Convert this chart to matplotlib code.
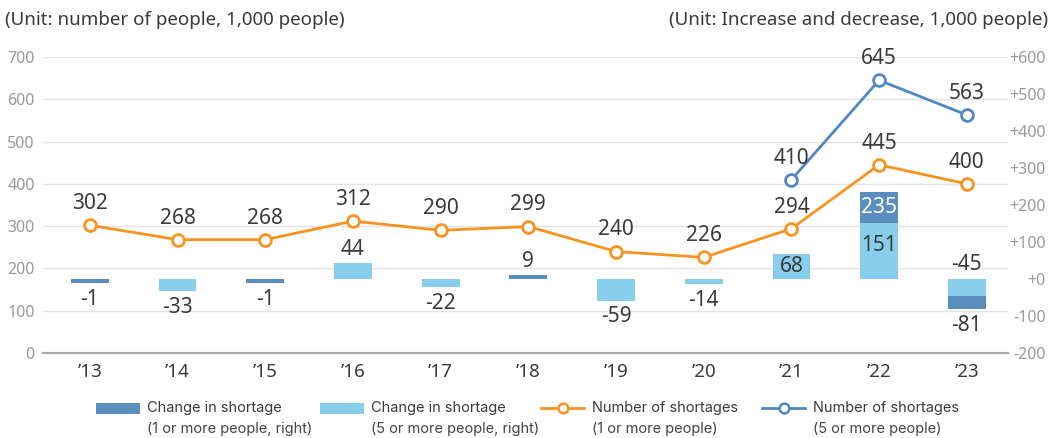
import numpy as np
import matplotlib.pyplot as plt
from matplotlib.patches import Rectangle
from matplotlib.lines import Line2D

plt.rcParams['font.family'] = ['Noto Sans', 'DejaVu Sans']

# data
years = ["\u201913", "\u201914", "\u201915", "\u201916", "\u201917", "\u201918",
         "\u201919", "\u201920", "\u201921", "\u201922", "\u201923"]
shortage_1plus = [302, 268, 268, 312, 290, 299, 240, 226, 294, 445, 400]
shortage_5plus = [np.nan, np.nan, np.nan, np.nan, np.nan, np.nan, np.nan, np.nan, 410, 645, 563]
change_1plus = [-1, np.nan, -1, np.nan, np.nan, 9, np.nan, np.nan, np.nan, 235, -81]
change_5plus = [np.nan, -33, np.nan, 44, -22, np.nan, -59, -14, 68, 151, -45]

left_ticks = [0, 100, 200, 300, 400, 500, 600, 700]
right_ticks = [-200, -100, 0, 100, 200, 300, 400, 500, 600]

DARK = '#5A8EBF'
LIGHT = '#87CEEC'
ORANGE = '#F7931E'
BLUE = '#5088C4'
TXT = '#3a3a3a'
GRAY = '#999999'

fig = plt.figure(figsize=(10.57, 4.38), dpi=100)
ax = fig.add_axes([43 / 1057, 85 / 438, 965 / 1057, 296 / 438])
x = np.arange(len(years))

# left axis: grid + ticks
ax.set_xlim(-0.535, 10.47)
ax.set_ylim(0, 700)
ax.set_yticks(left_ticks)
ax.set_yticklabels([str(t) for t in left_ticks])
ax.grid(axis='y', color='#e3e3e3', lw=1)
ax.set_axisbelow(True)
for s in ['top', 'right', 'left']:
    ax.spines[s].set_visible(False)
ax.spines['bottom'].set_color('#aaaaaa')
ax.spines['bottom'].set_linewidth(1.6)
ax.tick_params(axis='y', length=0, colors=GRAY, labelsize=11.5, pad=6)
ax.tick_params(axis='x', length=0, colors=TXT, labelsize=13.5, pad=7)
ax.set_xticks(x)
ax.set_xticklabels(years)

# right axis: change bars
ax2 = ax.twinx()
ax2.set_ylim(-200, 600)
ax2.set_yticks(right_ticks)
ax2.set_yticklabels([('+' if t >= 0 else '') + str(t) for t in right_ticks])
for s in ax2.spines.values():
    s.set_visible(False)
ax2.tick_params(axis='y', length=0, colors=GRAY, labelsize=11.5, pad=27)
for lbl in ax2.get_yticklabels():
    lbl.set_ha('right')

bw = 0.43
min_h = 12  # keep tiny changes visible
d = np.array(change_1plus, dtype=float)
l = np.array(change_5plus, dtype=float)
d_draw = np.sign(d) * np.maximum(np.abs(d), min_h)
l_draw = np.sign(l) * np.maximum(np.abs(l), min_h)
ax2.bar(x, d_draw, width=bw, color=DARK, zorder=2)
ax2.bar(x, l_draw, width=bw, color=LIGHT, zorder=3)

# bar labels
inside = {8}
for i in x:
    dv, lv = d[i], l[i]
    both = not np.isnan(dv) and not np.isnan(lv)
    if both and dv > 0:
        ax2.text(i, (lv + dv) / 2, f'{dv:.0f}', ha='center', va='center', color='white', fontsize=15, zorder=5)
        ax2.text(i, lv * 0.6, f'{lv:.0f}', ha='center', va='center', color=TXT, fontsize=15, zorder=5)
        continue
    if both:
        ax2.annotate(f'{lv:.0f}', (i, 0), xytext=(0, 3), textcoords='offset points',
                     ha='center', va='bottom', color=TXT, fontsize=15)
        ax2.annotate(f'{dv:.0f}', (i, d_draw[i]), xytext=(0, -4), textcoords='offset points',
                     ha='center', va='top', color=TXT, fontsize=15)
        continue
    v = dv if not np.isnan(dv) else lv
    vd = d_draw[i] if not np.isnan(dv) else l_draw[i]
    if i in inside:
        ax2.text(i, vd / 2, f'{v:.0f}', ha='center', va='center', color=TXT, fontsize=15, zorder=5)
    elif v > 0:
        ax2.annotate(f'{v:.0f}', (i, vd), xytext=(0, 2), textcoords='offset points',
                     ha='center', va='bottom', color=TXT, fontsize=15)
    else:
        ax2.annotate(f'{v:.0f}', (i, vd), xytext=(0, -4), textcoords='offset points',
                     ha='center', va='top', color=TXT, fontsize=15)

# lines on top, left scale
ax3 = ax.twinx()
ax3.set_ylim(0, 700)
ax3.axis('off')
ax3.set_xlim(ax.get_xlim())
mk = dict(marker='o', markersize=8.5, markerfacecolor='white', markeredgewidth=2, lw=2)
ax3.plot(x, shortage_1plus, color=ORANGE, **mk)
ax3.plot(x, shortage_5plus, color=BLUE, **mk)
for series in (shortage_1plus, shortage_5plus):
    for i, v in enumerate(series):
        if not np.isnan(v):
            ax3.annotate(f'{v:.0f}', (i, v), xytext=(0, 8), textcoords='offset points',
                         ha='center', va='bottom', color=TXT, fontsize=15)

# unit captions
fig.text(5 / 1057, 1 - 20 / 438, '(Unit: number of people, 1,000 people)', ha='left', va='center',
         fontsize=13.5, color=TXT)
fig.text(1048 / 1057, 1 - 20 / 438, '(Unit: Increase and decrease, 1,000 people)', ha='right', va='center',
         fontsize=13.5, color=TXT)

# legend, drawn by hand
def fx(px):
    return px / 1057

def fy(py):
    return 1 - py / 438

legend_items = [
    ('bar', DARK, 96, 'Change in shortage', '(1 or more people, right)'),
    ('bar', LIGHT, 320, 'Change in shortage', '(5 or more people, right)'),
    ('line', ORANGE, 541, 'Number of shortages', '(1 or more people)'),
    ('line', BLUE, 762, 'Number of shortages', '(5 or more people)'),
]
for kind, col, x0, t1, t2 in legend_items:
    if kind == 'bar':
        fig.add_artist(Rectangle((fx(x0), fy(414)), fx(44), 11 / 438, transform=fig.transFigure,
                                 color=col, lw=0))
    else:
        fig.add_artist(Line2D([fx(x0), fx(x0 + 43)], [fy(408), fy(408)], transform=fig.transFigure,
                              color=col, lw=2))
        fig.add_artist(Line2D([fx(x0 + 21.5)], [fy(408)], transform=fig.transFigure, color=col,
                              marker='o', markersize=7, markerfacecolor='white', markeredgewidth=1.8))
    fig.text(fx(x0 + 51), fy(408), t1, ha='left', va='center', fontsize=10.5, color=TXT,
             family=['Inter', 'DejaVu Sans'])
    fig.text(fx(x0 + 51), fy(429), t2, ha='left', va='center', fontsize=10.5, color='#444444',
             family=['Inter', 'DejaVu Sans'])

plt.savefig('out.png', dpi=100)
